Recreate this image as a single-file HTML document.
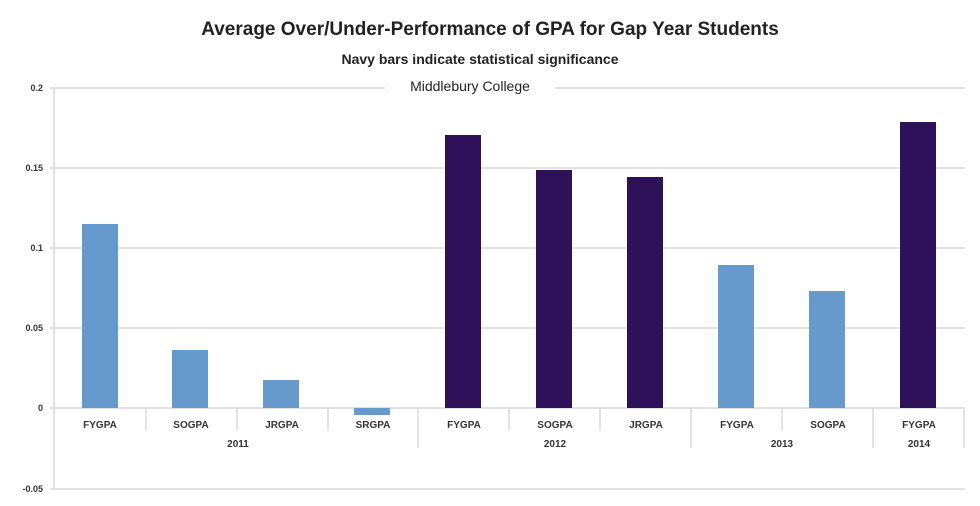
<!DOCTYPE html>
<html><head><style>body{margin:0;background:#fff}</style></head><body>
<svg width="980" height="501" xmlns="http://www.w3.org/2000/svg" font-family="Liberation Sans, sans-serif">
<rect width="980" height="501" fill="#fff"/>
<text x="490" y="35" text-anchor="middle" font-size="19" font-weight="bold" fill="#222">Average Over/Under-Performance of GPA for Gap Year Students</text>
<text x="480" y="64" text-anchor="middle" font-size="14" font-weight="bold" fill="#222">Navy bars indicate statistical significance</text>
<g stroke="#d9d9d9" stroke-width="1.5">
<line x1="50" y1="88" x2="965" y2="88"/><line x1="50" y1="168" x2="965" y2="168"/>
<line x1="50" y1="248" x2="965" y2="248"/><line x1="50" y1="328" x2="965" y2="328"/>
<line x1="50" y1="489" x2="965" y2="489"/>
<line x1="54" y1="88" x2="54" y2="489"/>
<line x1="50" y1="408" x2="965" y2="408"/>
<line x1="146" y1="408" x2="146" y2="430"/><line x1="237" y1="408" x2="237" y2="430"/>
<line x1="328" y1="408" x2="328" y2="430"/><line x1="418" y1="408" x2="418" y2="448"/>
<line x1="509" y1="408" x2="509" y2="430"/><line x1="600" y1="408" x2="600" y2="430"/>
<line x1="691" y1="408" x2="691" y2="448"/><line x1="782" y1="408" x2="782" y2="430"/>
<line x1="873" y1="408" x2="873" y2="448"/><line x1="964" y1="408" x2="964" y2="448"/>
</g>
<rect x="385" y="76" width="170" height="20" fill="#fff"/>
<text x="470" y="91" text-anchor="middle" font-size="14" fill="#222">Middlebury College</text>
<g font-size="9" font-weight="bold" fill="#333" text-anchor="end">
<text x="43" y="91">0.2</text><text x="43" y="171">0.15</text><text x="43" y="251">0.1</text>
<text x="43" y="331">0.05</text><text x="43" y="411">0</text><text x="43" y="492">-0.05</text>
</g>
<g fill="#6699CC">
<rect x="82" y="224" width="36" height="184"/><rect x="172" y="350" width="36" height="58"/>
<rect x="263" y="380" width="36" height="28"/><rect x="354" y="408" width="36" height="7"/>
<rect x="718" y="265" width="36" height="143"/><rect x="809" y="291" width="36" height="117"/>
</g>
<g fill="#2E1159">
<rect x="445" y="135" width="36" height="273"/><rect x="536" y="170" width="36" height="238"/>
<rect x="627" y="177" width="36" height="231"/><rect x="900" y="122" width="36" height="286"/>
</g>
<g font-size="10" font-weight="bold" fill="#333" text-anchor="middle">
<text x="100" y="428">FYGPA</text><text x="191" y="428">SOGPA</text><text x="282" y="428">JRGPA</text>
<text x="373" y="428">SRGPA</text><text x="464" y="428">FYGPA</text><text x="555" y="428">SOGPA</text>
<text x="646" y="428">JRGPA</text><text x="737" y="428">FYGPA</text><text x="828" y="428">SOGPA</text>
<text x="919" y="428">FYGPA</text>
<text x="238" y="447">2011</text><text x="555" y="447">2012</text><text x="782" y="447">2013</text><text x="919" y="447">2014</text>
</g>
</svg>
</body></html>
